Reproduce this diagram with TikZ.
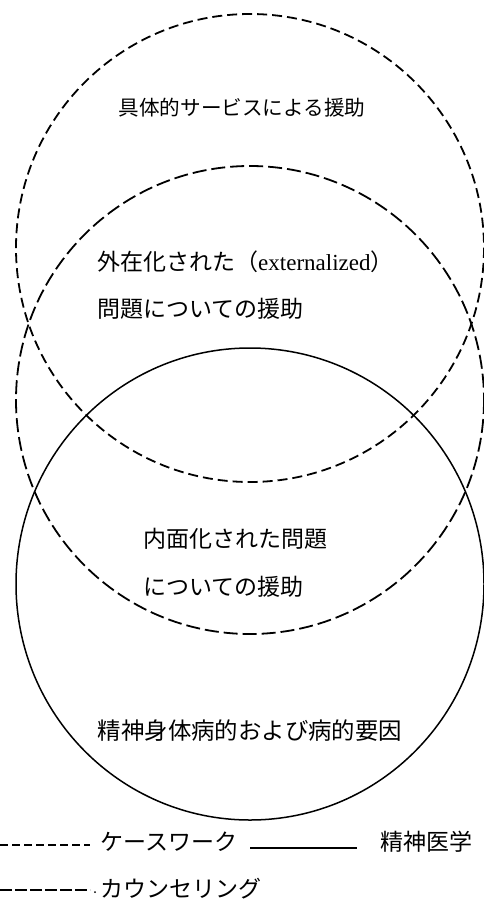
\documentclass[tikz,border=0pt]{standalone}
\usepackage{fontspec}
\setmainfont{Noto Sans CJK JP}
\newfontfamily\latinserif{Liberation Serif}
\begin{document}
\begin{tikzpicture}[x=1pt,y=-1pt,
  lbl/.style={inner sep=0pt,font=\fontsize{23}{26}\selectfont},
  casework/.style={line width=1.8pt,dash pattern=on 10pt off 5pt},
  counsel/.style={line width=1.8pt,dash pattern=on 14pt off 5pt},
  psych/.style={line width=1.5pt}]
\useasboundingbox (0,0) rectangle (484,900);
% circles
\coordinate (cw) at (250,248);
\coordinate (co) at (250,400);
\coordinate (ps) at (250,584);
\draw[casework] (cw) circle[radius=234];
\draw[counsel] (co) circle[radius=234];
\draw[psych] (ps) ellipse[x radius=234,y radius=236];
% texts
\node[lbl,font=\fontsize{20.6}{24}\selectfont] (t1) at (242,108) {具体的サービスによる援助};
\node[lbl,anchor=west] (t2) at (97,262) {外在化された（{\latinserif externalized}）};
\node[lbl,anchor=west] (t3) at (97,309) {問題についての援助};
\node[lbl,anchor=west] (t4) at (143,539) {内面化された問題};
\node[lbl,anchor=west] (t5) at (143,587) {についての援助};
\node[lbl,font=\fontsize{23.4}{26}\selectfont] (t6) at (250,731) {精神身体病的および病的要因};
% legend
\coordinate (l1a) at (0,845);
\coordinate (l1b) at (90,845);
\draw[line width=1.8pt,dash pattern=on 8pt off 4pt] (l1a) -- (l1b);
\node[lbl,anchor=west] (lg1) at (100,842) {ケースワーク};
\coordinate (l2a) at (250,848);
\coordinate (l2b) at (357,848);
\draw[psych] (l2a) -- (l2b);
\node[lbl,anchor=west] (lg2) at (380,842) {精神医学};
\coordinate (l3a) at (0,890);
\coordinate (l3b) at (90,890);
\draw[line width=2pt,dash pattern=on 12pt off 3pt] (l3a) -- (l3b);
\coordinate (dot) at (95,892);
\fill (dot) circle[radius=1];
\node[lbl,anchor=west] (lg3) at (100,889) {カウンセリング};
\end{tikzpicture}
\end{document}
